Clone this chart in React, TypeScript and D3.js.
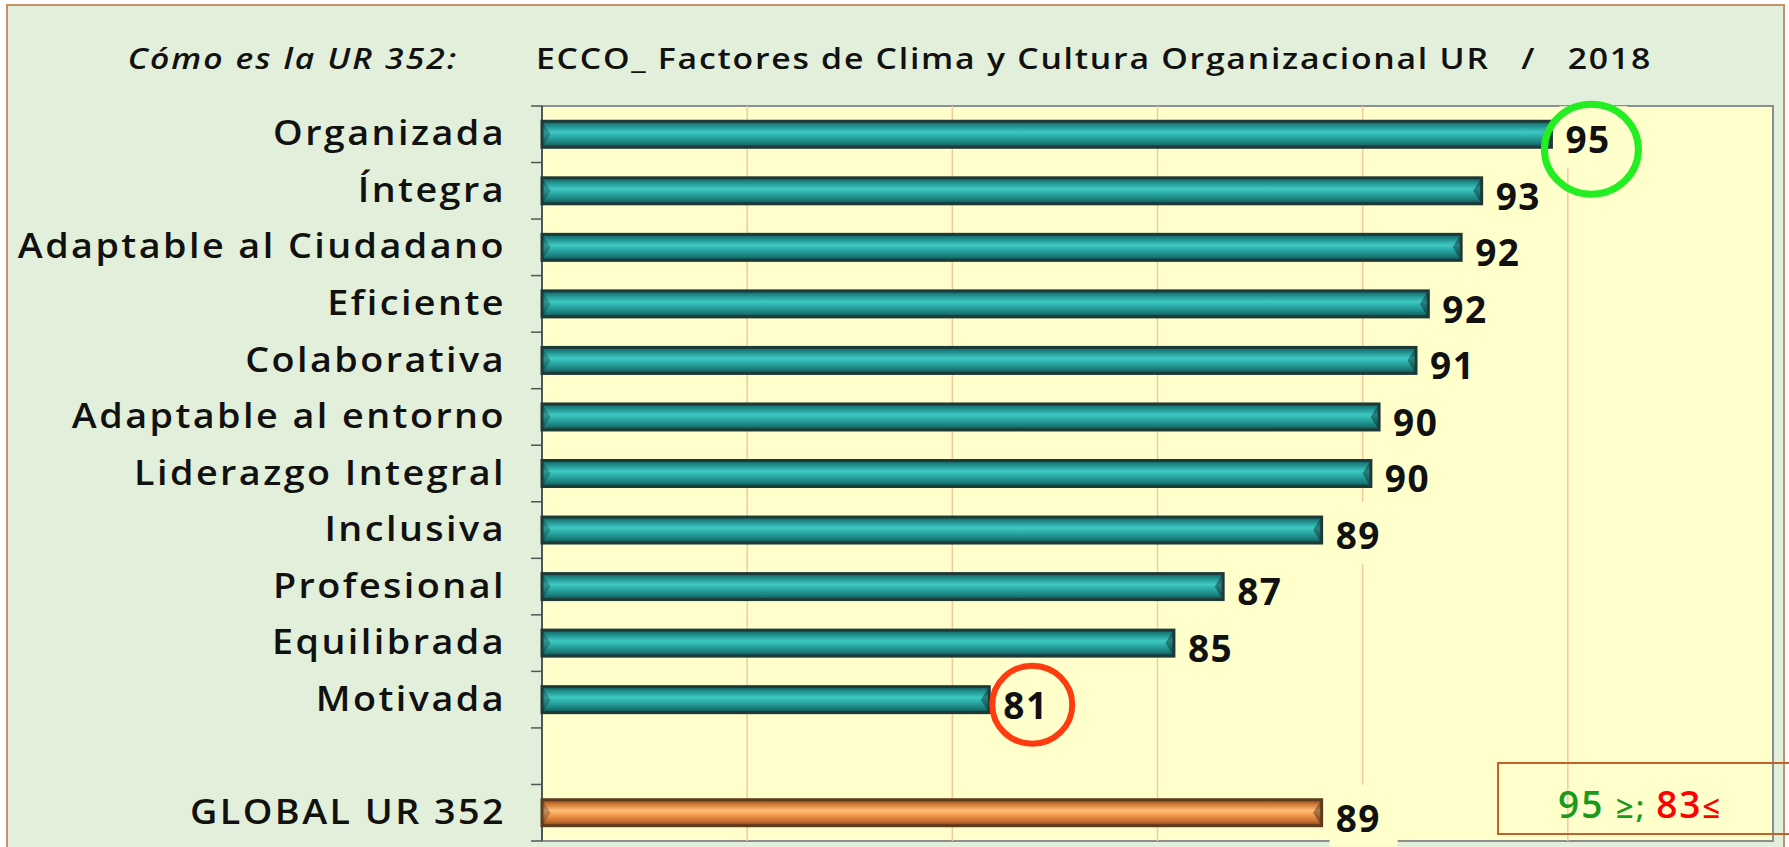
import React from 'react';
import * as d3 from 'd3';

// factores (orden de la gráfica) y su valor
const categories = [
  'Organizada',
  'Íntegra',
  'Adaptable al Ciudadano',
  'Eficiente',
  'Colaborativa',
  'Adaptable al entorno',
  'Liderazgo Integral',
  'Inclusiva',
  'Profesional',
  'Equilibrada',
  'Motivada',
];
const values = [94.6, 92.9, 92.4, 91.6, 91.3, 90.4, 90.2, 89.0, 86.6, 85.4, 80.9];

const globalLabel = 'GLOBAL UR 352';
const globalValue = 89.0;

const xDomain = [70, 100];
const gridTicks = [75, 80, 85, 90, 95];

const W = 1789;
const H = 847;

function App() {
  const margin = { top: 106, right: 16, bottom: 6, left: 542 };

  const rows = [...categories, '__gap__', globalLabel];

  const x = d3.scaleLinear().domain(xDomain).range([margin.left, W - margin.right]);
  const y = d3.scaleBand().domain(rows).range([margin.top, H - margin.bottom]).padding(0);

  const barH = y.bandwidth() * 0.46;
  const fontLabel = '"Open Sans", sans-serif';

  const maxIdx = values.indexOf(d3.max(values) as number);
  const minIdx = values.indexOf(d3.min(values) as number);

  const bar = (name: string, v: number, fill: string, edge: string) => {
    const cy = (y(name) as number) + y.bandwidth() / 2;
    const x0 = x(xDomain[0]);
    const x1 = x(v);
    const top = cy - barH / 2;
    const b = 7;
    return (
      <g key={name}>
        <rect x={x0} y={top} width={x1 - x0} height={barH} fill={fill} stroke={edge} strokeWidth={3} />
        {/* biseles de los extremos */}
        <polygon
          points={`${x0 + 1.5},${top + 2} ${x0 + 1.5 + b},${cy} ${x0 + 1.5},${top + barH - 2}`}
          fill="#000" opacity={0.25}
        />
        <polygon
          points={`${x1 - 1.5},${top + 2} ${x1 - 1.5 - b},${cy} ${x1 - 1.5},${top + barH - 2}`}
          fill="#000" opacity={0.35}
        />
      </g>
    );
  };

  const valueLabel = (name: string, v: number) => {
    const cy = (y(name) as number) + y.bandwidth() / 2;
    return (
      <g key={'l' + name}>
        <rect x={x(v) + 8} y={cy - 28} width={68} height={62} fill="#FFFFCC" />
        <text
          x={x(v) + 14}
          y={cy + 9}
          dominantBaseline="middle"
          fontFamily={fontLabel}
          fontWeight={700}
          fontSize={37}
          letterSpacing={1.5}
          fill="#111"
        >
          {Math.round(v)}
        </text>
      </g>
    );
  };

  const cyOf = (name: string) => (y(name) as number) + y.bandwidth() / 2;

  return (
    <svg width={W} height={H} style={{ position: 'absolute', left: 0, top: 0 }}>
      <defs>
        <linearGradient id="teal" x1="0" y1="0" x2="0" y2="1">
          <stop offset="0%" stopColor="#165e5c" />
          <stop offset="18%" stopColor="#1f8f8c" />
          <stop offset="42%" stopColor="#3fc9c4" />
          <stop offset="60%" stopColor="#2aaaa6" />
          <stop offset="85%" stopColor="#197a77" />
          <stop offset="100%" stopColor="#0f4a48" />
        </linearGradient>
        <linearGradient id="orange" x1="0" y1="0" x2="0" y2="1">
          <stop offset="0%" stopColor="#8a4a1e" />
          <stop offset="18%" stopColor="#cf7a35" />
          <stop offset="42%" stopColor="#ffbd78" />
          <stop offset="60%" stopColor="#f39a4a" />
          <stop offset="85%" stopColor="#c06a2c" />
          <stop offset="100%" stopColor="#7a3f18" />
        </linearGradient>
      </defs>

      <rect x={0} y={0} width={W} height={H} fill="#fff" />
      <rect x={7} y={5} width={W - 12} height={H} fill="#E2EFDA" stroke="#C9906C" strokeWidth={2} />

      {/* títulos */}
      <g transform="translate(458,69) scale(1.16,1)">
        <text textAnchor="end" fontFamily={fontLabel} fontStyle="italic" fontWeight={600} fontSize={29} letterSpacing={1.8} fill="#111">
          Cómo es la UR 352:
        </text>
      </g>
      <g transform="translate(536,69) scale(1.165,1)">
        <text fontFamily={fontLabel} fontWeight={600} fontSize={29} letterSpacing={1.5} fill="#111" style={{ whiteSpace: 'pre' }}>
          {'ECCO_ Factores de Clima y Cultura Organizacional UR   /   2018'}
        </text>
      </g>

      {/* área de trazado */}
      <rect
        x={x(xDomain[0])}
        y={margin.top}
        width={x(xDomain[1]) - x(xDomain[0])}
        height={H - margin.bottom - margin.top}
        fill="#FFFFCC"
        stroke="#8e8e8e"
        strokeWidth={2}
      />
      {gridTicks.map((t) => (
        <line key={t} x1={x(t)} x2={x(t)} y1={margin.top} y2={H - margin.bottom} stroke="#F5C9A0" strokeWidth={1.5} />
      ))}

      {/* eje vertical con marcas */}
      <line x1={x(xDomain[0])} x2={x(xDomain[0])} y1={margin.top} y2={H - margin.bottom} stroke="#555" strokeWidth={2} />
      {[...rows.map((r) => y(r) as number), H - margin.bottom].map((ty, i) => (
        <line key={i} x1={x(xDomain[0]) - 11} x2={x(xDomain[0])} y1={ty} y2={ty} stroke="#555" strokeWidth={1.5} />
      ))}

      {/* barras */}
      {categories.map((c, i) => bar(c, values[i], 'url(#teal)', '#1e3a38'))}
      {bar(globalLabel, globalValue, 'url(#orange)', '#5e3a1e')}

      {/* etiquetas de valor */}
      {categories.map((c, i) => valueLabel(c, values[i]))}
      {valueLabel(globalLabel, globalValue)}

      {/* etiquetas de categoría */}
      {[...categories, globalLabel].map((c) => (
        <g key={'c' + c} transform={`translate(506,${cyOf(c) + 2}) scale(1.11,1)`}>
          <text
            textAnchor="end"
            dominantBaseline="middle"
            fontFamily={fontLabel}
            fontWeight={600}
            fontSize={34}
            letterSpacing={2.2}
            fill="#111"
          >
            {c}
          </text>
        </g>
      ))}

      {/* círculos de máximo y mínimo */}
      <ellipse
        cx={x(values[maxIdx]) + 40}
        cy={cyOf(categories[maxIdx]) + 15}
        rx={47}
        ry={45}
        fill="none"
        stroke="#22ee22"
        strokeWidth={7}
      />
      <ellipse
        cx={x(values[minIdx]) + 43}
        cy={cyOf(categories[minIdx]) + 5}
        rx={40}
        ry={39}
        fill="none"
        stroke="#ff3b10"
        strokeWidth={6}
      />

      {/* rango de referencia */}
      <rect x={1498} y={763} width={300} height={71} fill="none" stroke="#C0612A" strokeWidth={2} />
      <text x={1558} y={818} fontFamily={fontLabel} fontWeight={600} fontSize={37} letterSpacing={2}>
        <tspan fill="#1a9a1a">95 </tspan>
        <tspan fill="#1a9a1a" fontSize={31}>≥; </tspan>
        <tspan fill="#ff0000">83</tspan>
        <tspan fill="#ff0000" fontSize={31}>≤</tspan>
      </text>
    </svg>
  );
}

export default App;
